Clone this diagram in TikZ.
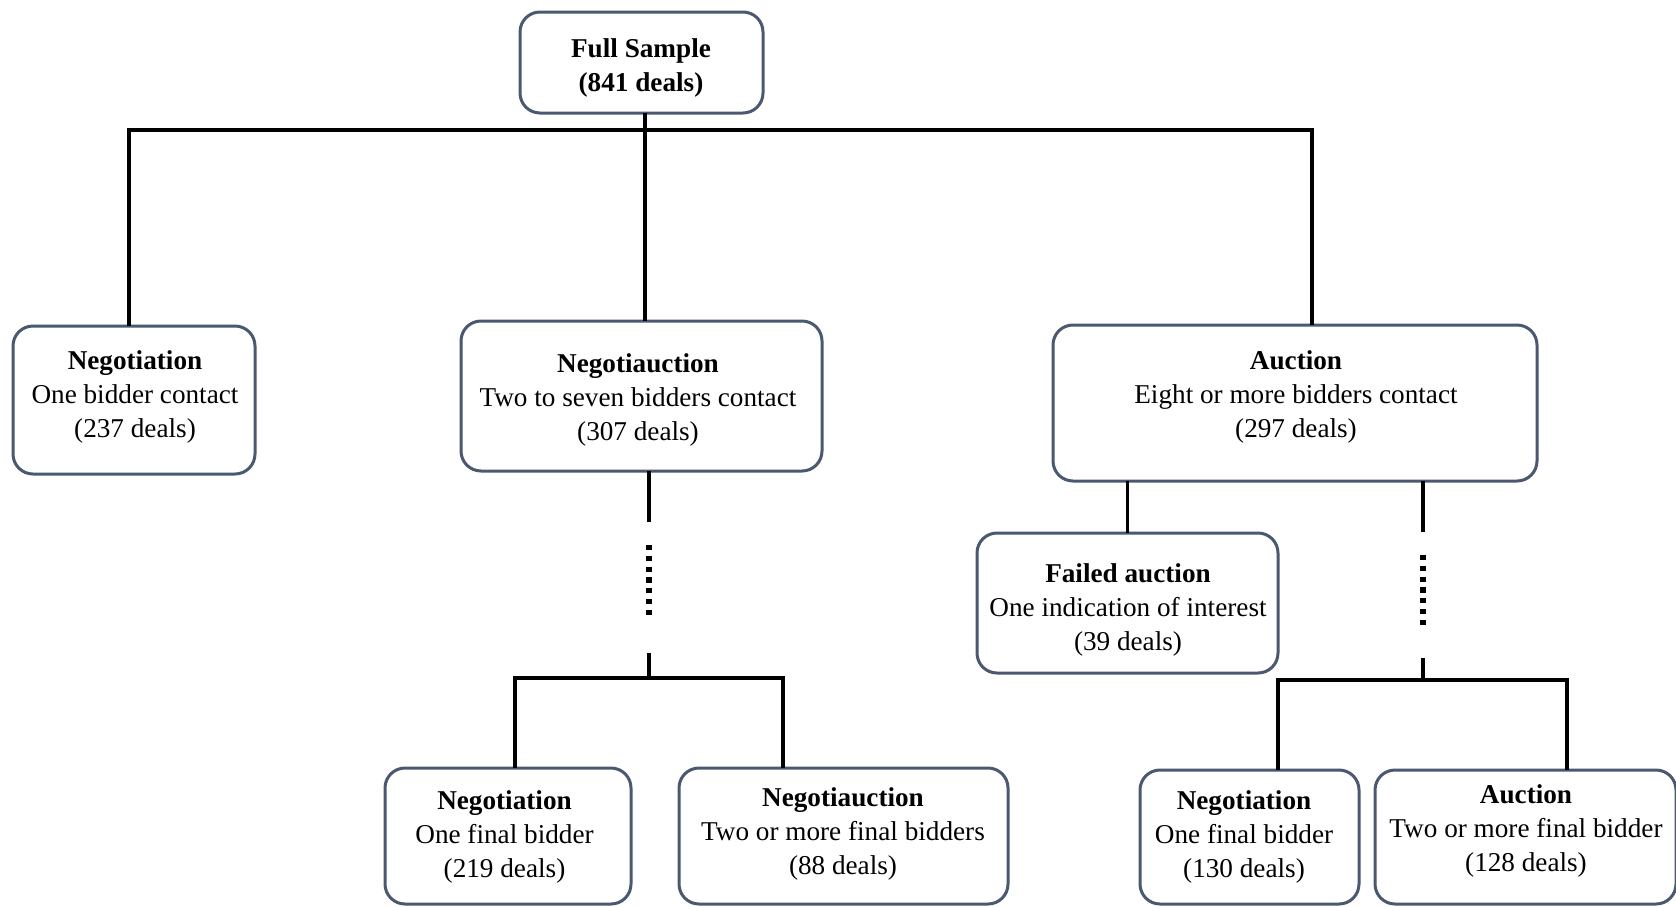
\documentclass[tikz,border=0pt]{standalone}
\usepackage{fontspec}
\setmainfont{Liberation Serif}
\usetikzlibrary{calc}
\definecolor{boxline}{RGB}{74,88,112}
\begin{document}
\begin{tikzpicture}[x=0.5pt,y=-0.5pt,
 box/.style={draw=boxline,line width=1.5pt,rounded corners=10pt,inner sep=0pt,outer sep=0pt,fill=white},
 txt/.style={align=center,inner sep=0pt,font=\fontsize{13.6}{17}\selectfont},
 conn/.style={line width=1.75pt,black},
 dotline/.style={line width=2.8pt,black,dash pattern=on 2.6pt off 2.8pt}]
\useasboundingbox (0,0) rectangle (1676,906);
\clip (0,0) rectangle (1676,906);
\fill[white] (0,0) rectangle (1676,906);

% boxes
\node[box,minimum width=121.5pt,minimum height=50.5pt] (full) at (641.5,62.5) {};
\node[box,minimum width=121pt,minimum height=74pt] (neg1) at (134,400) {};
\node[box,minimum width=180.5pt,minimum height=75pt] (nau1) at (641.5,396) {};
\node[box,minimum width=242pt,minimum height=78pt] (auc1) at (1295,403) {};
\node[box,minimum width=150.5pt,minimum height=70pt] (fail) at (1127.5,603) {};
\node[box,minimum width=123pt,minimum height=68pt] (neg2) at (508,836) {};
\node[box,minimum width=164.5pt,minimum height=68pt] (nau2) at (843.5,836) {};
\node[box,minimum width=109.5pt,minimum height=67pt] (neg3) at (1249.5,837) {};
\node[box,minimum width=150.5pt,minimum height=67pt] (auc3) at (1525.5,837) {};

% texts
\node[txt] (tfull) at (641,68) {\textbf{Full Sample}\\\textbf{(841 deals)}};
\node[txt] (tneg1) at (135,397) {\textbf{Negotiation}\\One bidder contact\\(237 deals)};
\node[txt] (tnau1) at (638,400) {\textbf{Negotiauction}\\Two to seven bidders contact\\(307 deals)};
\node[txt] (tauc1) at (1296,397) {\textbf{Auction}\\Eight or more bidders contact\\(297 deals)};
\node[txt] (tfail) at (1128,610) {\textbf{Failed auction}\\One indication of interest\\(39 deals)};
\node[txt] (tneg2) at (504.5,837) {\textbf{Negotiation}\\One final bidder\\(219 deals)};
\node[txt] (tnau2) at (843,834) {\textbf{Negotiauction}\\Two or more final bidders\\(88 deals)};
\node[txt] (tneg3) at (1244,837) {\textbf{Negotiation}\\One final bidder\\(130 deals)};
\node[txt] (tauc3) at (1526,831) {\textbf{Auction}\\Two or more final bidder\\(128 deals)};

% top level connectors
\coordinate (top) at ($(full.south)+(3.5,17)$);
\draw[conn] ($(full.south)+(3.5,0)$) -- (top);
\draw[conn] ($(neg1.north)+(-5,0)$) |- (top) -| ($(auc1.north)+(17,0)$);
\draw[conn] (top) -- ($(nau1.north)+(3.5,0)$);

% negotiauction branch
\coordinate (nbar) at ($(nau1.south)+(7.5,207)$);
\draw[conn] ($(nau1.south)+(7.5,0)$) -- ++(0,51);
\draw[dotline] ($(nau1.south)+(7.5,74)$) -- ++(0,70);
\draw[conn] ($(nbar)+(0,-25)$) -- (nbar);
\draw[conn] ($(neg2.north)+(7,0)$) |- (nbar) -| ($(nau2.north)+(-60.5,0)$);

% auction branch
\draw[conn] (fail.north) -- (fail.north |- auc1.south);
\coordinate (abar) at ($(auc1.south)+(128,199)$);
\draw[conn] ($(auc1.south)+(128,0)$) -- ++(0,51);
\draw[dotline] ($(auc1.south)+(128,74)$) -- ++(0,70);
\draw[conn] ($(abar)+(0,-22)$) -- (abar);
\draw[conn] ($(neg3.north)+(28.5,0)$) |- (abar) -| ($(auc3.north)+(41.5,0)$);
\end{tikzpicture}
\end{document}
